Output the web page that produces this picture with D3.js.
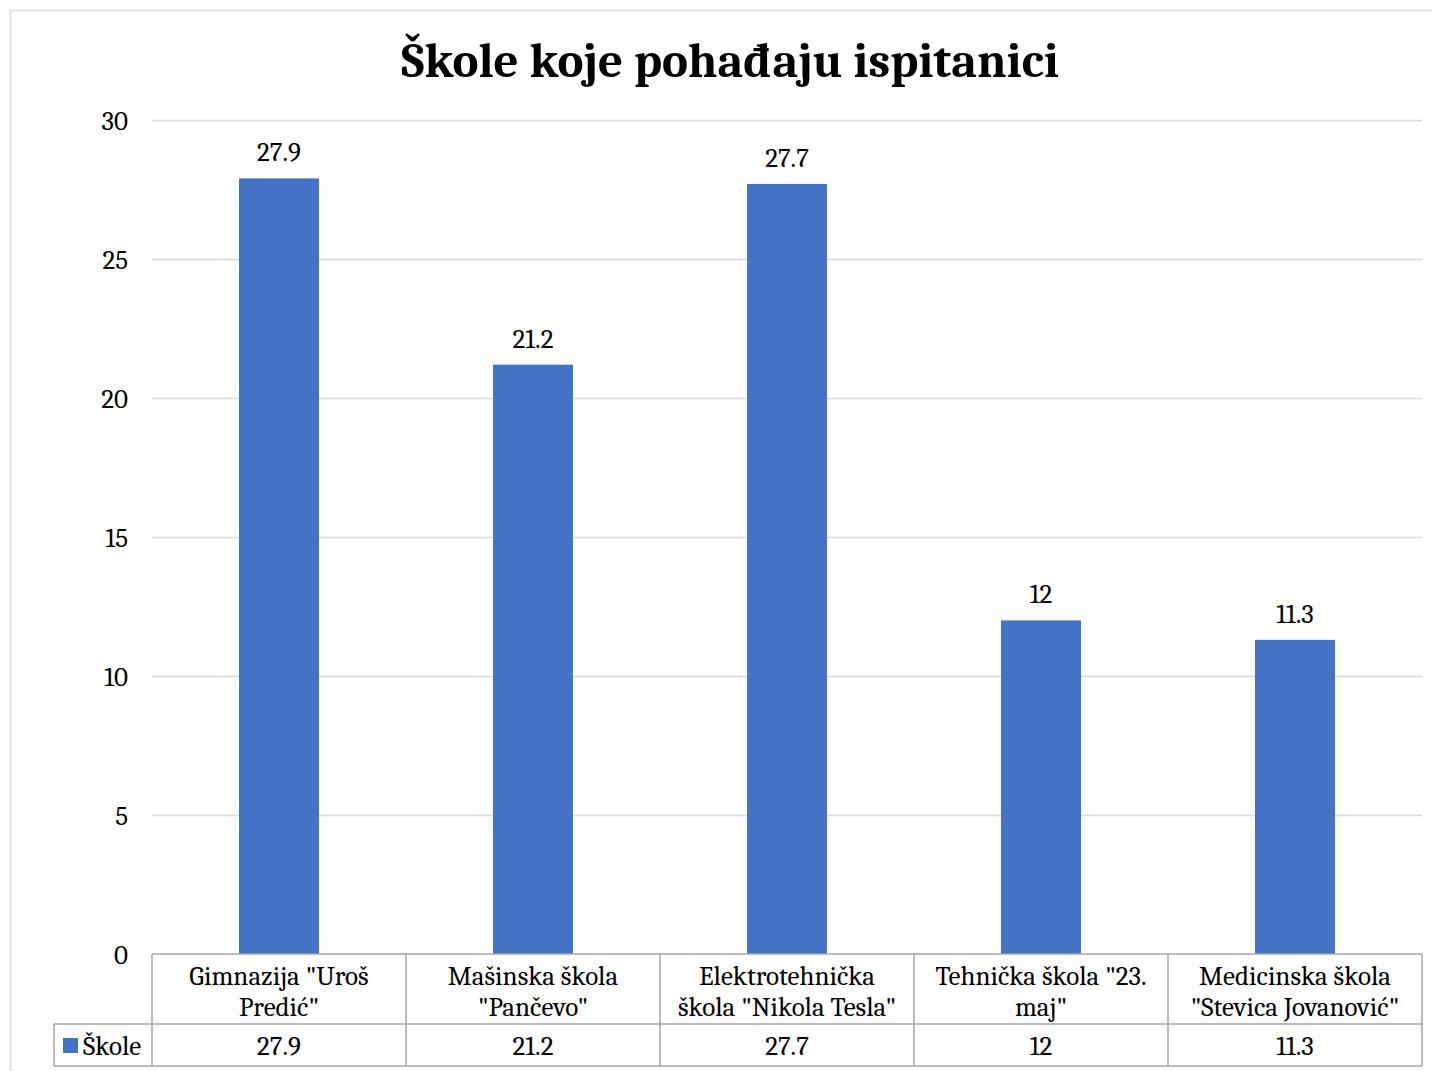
<!DOCTYPE html>
<html>
<head>
<meta charset="utf-8">
<script src="https://cdn.jsdelivr.net/npm/d3@7"></script>
<style>
  body { margin: 0; background: #fff; }
  svg text { font-family: Cambria, "Liberation Serif", serif; fill: #000; }
</style>
</head>
<body>
<div id="chart"></div>
<script>
// chart values
const categories = ['Gimnazija "Uroš Predić"', 'Mašinska škola "Pančevo"', 'Elektrotehnička škola "Nikola Tesla"', 'Tehnička škola "23. maj"', 'Medicinska škola "Stevica Jovanović"'];
const categoryLines = [['Gimnazija "Uroš', 'Predić"'], ['Mašinska škola', '"Pančevo"'], ['Elektrotehnička', 'škola "Nikola Tesla"'], ['Tehnička škola "23.', 'maj"'], ['Medicinska škola', '"Stevica Jovanović"']];
const values = [27.9, 21.2, 27.7, 12, 11.3];
const valueLabels = ['27.9', '21.2', '27.7', '12', '11.3'];
const yTicks = [0, 5, 10, 15, 20, 25, 30];
const seriesName = 'Škole';
const title = 'Škole koje pohađaju ispitanici';

const W = 1432, H = 1071;
const plot = { left: 152, right: 1422, top: 120, bottom: 954 };
const row1H = 70, row2H = 42, legendLeft = 54;
const barColor = '#4472C4';
const fontSize = '27px';

const svg = d3.select('#chart').append('svg')
    .attr('width', W)
    .attr('height', H);

// outer chart border
svg.append('rect')
    .attr('x', 10.5).attr('y', 10.5)
    .attr('width', W + 20).attr('height', H + 20)
    .attr('fill', 'none')
    .attr('stroke', '#d9d9d9')
    .attr('stroke-width', 1.5);

svg.append('text')
    .attr('x', 730)
    .attr('y', 77)
    .attr('text-anchor', 'middle')
    .attr('font-weight', 700)
    .style('font-size', '49px')
    .text(title);

const x = d3.scaleBand()
    .domain(categories)
    .range([plot.left, plot.right])
    .paddingInner(0.685)
    .paddingOuter(0.3425);

const y = d3.scaleLinear()
    .domain([0, 30])
    .range([plot.bottom, plot.top]);

// gridlines
svg.append('g')
    .selectAll('line')
    .data(yTicks.filter(d => d > 0))
    .join('line')
    .attr('x1', plot.left).attr('x2', plot.right)
    .attr('y1', d => y(d) + 0.5).attr('y2', d => y(d) + 0.5)
    .attr('stroke', '#d9d9d9')
    .attr('stroke-width', 1.5);

// y tick labels
svg.append('g')
    .selectAll('text')
    .data(yTicks)
    .join('text')
    .attr('x', 128)
    .attr('y', d => y(d) + 10)
    .attr('text-anchor', 'end')
    .style('font-size', fontSize)
    .text(d => d);

// bars
svg.append('g')
    .selectAll('rect')
    .data(values)
    .join('rect')
    .attr('x', (d, i) => x(categories[i]))
    .attr('y', d => y(d))
    .attr('width', x.bandwidth())
    .attr('height', d => y(0) - y(d))
    .attr('fill', barColor);

// value labels
svg.append('g')
    .selectAll('text')
    .data(values)
    .join('text')
    .attr('x', (d, i) => x(categories[i]) + x.bandwidth() / 2)
    .attr('y', d => y(d) - 17)
    .attr('text-anchor', 'middle')
    .style('font-size', fontSize)
    .text((d, i) => valueLabels[i]);

// data table
const step = x.step();
const table = svg.append('g')
    .attr('stroke', '#a6a6a6')
    .attr('stroke-width', 1.5)
    .attr('fill', 'none');

table.append('line')
    .attr('x1', plot.left).attr('x2', plot.right)
    .attr('y1', plot.bottom).attr('y2', plot.bottom);
table.append('line')
    .attr('x1', legendLeft).attr('x2', plot.right)
    .attr('y1', plot.bottom + row1H).attr('y2', plot.bottom + row1H);
table.append('line')
    .attr('x1', legendLeft).attr('x2', plot.right)
    .attr('y1', plot.bottom + row1H + row2H).attr('y2', plot.bottom + row1H + row2H);
table.append('line')
    .attr('x1', legendLeft).attr('x2', legendLeft)
    .attr('y1', plot.bottom + row1H).attr('y2', plot.bottom + row1H + row2H);
table.selectAll('line.col')
    .data(d3.range(categories.length + 1))
    .join('line')
    .attr('class', 'col')
    .attr('x1', i => plot.left + i * step).attr('x2', i => plot.left + i * step)
    .attr('y1', plot.bottom).attr('y2', plot.bottom + row1H + row2H);

// category labels
const catG = svg.append('g')
    .selectAll('text')
    .data(categoryLines)
    .join('text')
    .attr('x', (d, i) => x(categories[i]) + x.bandwidth() / 2)
    .attr('y', plot.bottom + 31)
    .attr('text-anchor', 'middle')
    .style('font-size', fontSize);
catG.selectAll('tspan')
    .data(d => d)
    .join('tspan')
    .attr('x', function () { return d3.select(this.parentNode).attr('x'); })
    .attr('dy', (d, i) => i === 0 ? 0 : 31)
    .text(d => d);

// table values
svg.append('g')
    .selectAll('text')
    .data(values)
    .join('text')
    .attr('x', (d, i) => x(categories[i]) + x.bandwidth() / 2)
    .attr('y', plot.bottom + row1H + 31)
    .attr('text-anchor', 'middle')
    .style('font-size', fontSize)
    .text((d, i) => valueLabels[i]);

// legend key
svg.append('rect')
    .attr('x', 63).attr('y', plot.bottom + row1H + 14)
    .attr('width', 15).attr('height', 15)
    .attr('fill', barColor);
svg.append('text')
    .attr('x', 83)
    .attr('y', plot.bottom + row1H + 31)
    .style('font-size', fontSize)
    .text(seriesName);
</script>
</body>
</html>
